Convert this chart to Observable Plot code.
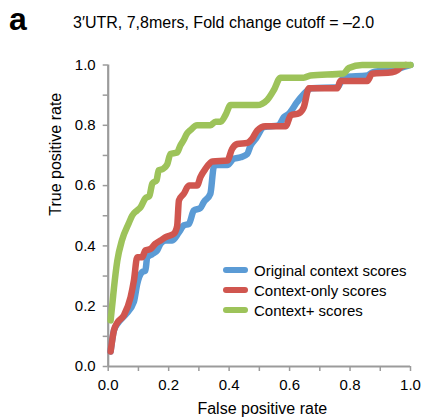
<!DOCTYPE html>
<html><head><meta charset="utf-8">
<script src="https://cdn.jsdelivr.net/npm/d3@7"></script>
<script src="https://cdn.jsdelivr.net/npm/@observablehq/plot@0.6"></script>
<style>
body{margin:0;background:#fff;font-family:"Liberation Sans",Arial,Helvetica,sans-serif;color:#000}
#wrap{position:relative;width:422px;height:418px;overflow:hidden;background:#fff}
#head{position:relative;height:45px}
#tag{position:absolute;left:9px;top:3px;font-size:32px;line-height:32px;font-weight:bold}
#sub{position:absolute;left:73px;top:15px;font-size:16px;line-height:16px;white-space:nowrap}
#legend{position:absolute;left:223px;top:260px}
.row{display:flex;align-items:center;height:20px;font-size:15px;white-space:nowrap}
.sw{display:inline-block;width:25px;height:6px;border-radius:3px;margin-right:6px}
</style></head><body>
<div id="wrap">
<div id="head"><span id="tag">a</span><span id="sub">3′UTR, 7,8mers, Fold change cutoff = –2.0</span></div>
<div id="chart"></div>
<div id="legend"></div>
</div>
<script>
const seriesNames = ["Original context scores", "Context-only scores", "Context+ scores"];
const seriesColors = ["#5B9BD5", "#D0564F", "#9DC35A"];

const origFpr = [0.008,0.019,0.035,0.057,0.085,0.096,0.112,0.123,0.129,0.146,0.162,0.173,0.190,0.212,0.234,0.250,0.267,0.283,0.305,0.316,0.338,0.349,0.355,0.394,0.415,0.438,0.460,0.471,0.488,0.515,0.564,0.581,0.597,0.625,0.647,0.674,0.758,0.780,0.857,0.873,0.967,1.0];
const origTpr = [0.05,0.12,0.148,0.172,0.215,0.274,0.313,0.318,0.362,0.373,0.385,0.407,0.418,0.418,0.445,0.468,0.473,0.517,0.526,0.545,0.573,0.661,0.668,0.668,0.689,0.694,0.705,0.733,0.755,0.794,0.80,0.827,0.838,0.877,0.904,0.923,0.926,0.96,0.965,0.975,0.99,1.0];

const onlyFpr = [0.008,0.019,0.030,0.052,0.074,0.085,0.096,0.112,0.123,0.140,0.156,0.173,0.190,0.217,0.228,0.234,0.250,0.267,0.294,0.305,0.322,0.345,0.394,0.410,0.427,0.460,0.476,0.493,0.520,0.587,0.604,0.631,0.647,0.664,0.758,0.768,0.857,0.873,0.939,0.956,0.967,0.985];
const onlyTpr = [0.05,0.12,0.145,0.17,0.23,0.285,0.362,0.362,0.385,0.390,0.407,0.418,0.429,0.44,0.465,0.551,0.573,0.60,0.60,0.628,0.656,0.680,0.683,0.722,0.738,0.742,0.755,0.783,0.797,0.797,0.833,0.84,0.86,0.923,0.923,0.947,0.947,0.971,0.976,0.982,0.993,1.0];

const plusFpr = [0.008,0.015,0.019,0.030,0.046,0.068,0.079,0.096,0.107,0.123,0.136,0.146,0.160,0.167,0.180,0.195,0.206,0.228,0.239,0.248,0.261,0.272,0.294,0.338,0.355,0.372,0.388,0.405,0.493,0.526,0.548,0.570,0.647,0.669,0.779,0.796,0.840,1.0];
const plusTpr = [0.153,0.22,0.26,0.35,0.42,0.475,0.50,0.518,0.528,0.558,0.565,0.607,0.618,0.651,0.655,0.670,0.705,0.710,0.734,0.748,0.773,0.784,0.80,0.80,0.812,0.812,0.834,0.867,0.867,0.884,0.917,0.958,0.958,0.965,0.972,0.99,1.0,1.0];

const minorTicks = [0,0.1,0.2,0.3,0.4,0.5,0.6,0.7,0.8,0.9,1.0];
const majorTicks = [0,0.2,0.4,0.6,0.8,1.0];
const xTitle = "False positive rate";
const yTitle = "True positive rate";

const fprs = [origFpr, onlyFpr, plusFpr];
const tprs = [origTpr, onlyTpr, plusTpr];
const rows = [];
seriesNames.forEach((name, i) => {
  fprs[i].forEach((f, j) => rows.push({series: name, fpr: f, tpr: tprs[i][j]}));
});

const axisColor = "#9b9b9b";
const fmt = d3.format(".1f");

const chart = Plot.plot({
  width: 422,
  height: 373,
  marginLeft: 107.7,
  marginRight: 12,
  marginTop: 19.5,
  marginBottom: 52,
  style: {fontFamily: '"Liberation Sans", Arial, Helvetica, sans-serif', fontSize: "15px", color: "#000", background: "#fff", overflow: "visible"},
  x: {domain: [0, 1]},
  y: {domain: [0, 1]},
  color: {domain: seriesNames, range: seriesColors},
  marks: [
    Plot.axisX({ticks: minorTicks, tickSize: 5, tickFormat: () => "", stroke: axisColor, strokeWidth: 1.5, label: null}),
    Plot.axisY({ticks: minorTicks, tickSize: 5, tickFormat: () => "", stroke: axisColor, strokeWidth: 1.5, label: null}),
    Plot.axisX({ticks: majorTicks, tickSize: 0, tickPadding: 13, tickFormat: fmt, fontSize: 15, fill: "#000", label: null}),
    Plot.axisY({ticks: majorTicks, tickSize: 0, tickPadding: 12.5, tickFormat: fmt, fontSize: 15, fill: "#000", label: null}),
    Plot.ruleY([0], {stroke: axisColor, strokeWidth: 2.2}),
    Plot.ruleX([0], {stroke: axisColor, strokeWidth: 2.2}),
    Plot.text([xTitle], {frameAnchor: "bottom", lineAnchor: "top", dy: 36, dx: 3, fontSize: 16}),
    Plot.text([yTitle], {frameAnchor: "left", rotate: -90, dx: -52, fontSize: 16}),
    Plot.line(rows, {x: "fpr", y: "tpr", z: "series", stroke: "series", strokeWidth: 6.5, curve: "monotone-x", strokeLinecap: "round", strokeLinejoin: "round"})
  ]
});
document.getElementById("chart").appendChild(chart);

const legend = document.getElementById("legend");
seriesNames.forEach((name, i) => {
  const row = document.createElement("div");
  row.className = "row";
  const sw = document.createElement("span");
  sw.className = "sw";
  sw.style.background = seriesColors[i];
  const t = document.createElement("span");
  t.textContent = name;
  row.appendChild(sw); row.appendChild(t);
  legend.appendChild(row);
});
</script>
</body></html>
